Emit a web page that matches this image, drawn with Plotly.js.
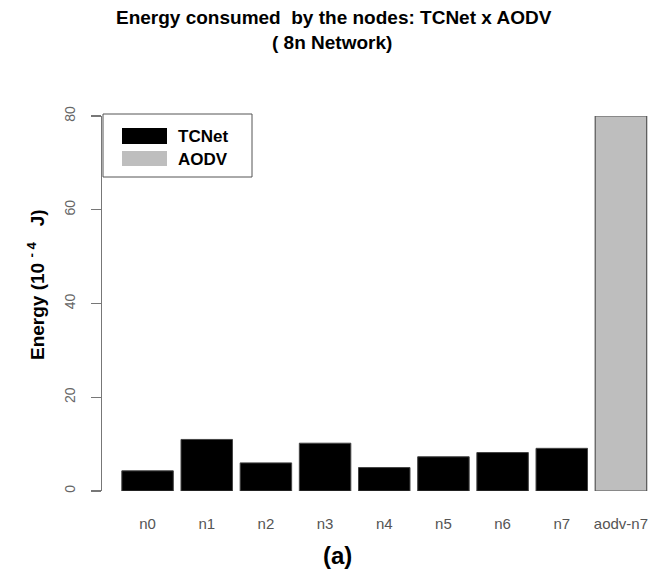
<!DOCTYPE html>
<html>
<head>
<meta charset="utf-8">
<script src="https://cdn.plot.ly/plotly-3.0.1.min.js"></script>
<style>html,body{margin:0;padding:0;background:#fff;}#chart{width:667px;height:583px;}</style>
</head>
<body>
<div id="chart"></div>
<script>
const categories = ["n0","n1","n2","n3","n4","n5","n6","n7","aodv-n7"];
const tcnetValues = [4.3, 11.0, 6.0, 10.2, 5.0, 7.3, 8.2, 9.1, null];
const aodvValues = [null, null, null, null, null, null, null, null, 80];
const yTicks = [0, 20, 40, 60, 80];
const seriesNames = ["TCNet", "AODV"];
const titleLines = ["Energy consumed  by the nodes: TCNet x AODV", "( 8n Network)"];

const W = 667, H = 583;
const L = 102, R = 660, T = 116, B = 491;
const px = x => (x - L) / (R - L);
const py = y => (B - y) / (B - T);
const font = "Liberation Sans, Arial, sans-serif";

const traces = [
  {type: "bar", x: categories, y: tcnetValues, name: seriesNames[0],
   marker: {color: "#000000", line: {color: "#444444", width: 1}}, hoverinfo: "x+y"},
  {type: "bar", x: categories, y: aodvValues, name: seriesNames[1],
   marker: {color: "#bebebe", line: {color: "#555555", width: 1.2}}, hoverinfo: "x+y"}
];

const layout = {
  width: W, height: H,
  margin: {l: L, r: W - R, t: T, b: H - B, pad: 0},
  paper_bgcolor: "#fff", plot_bgcolor: "#fff",
  showlegend: false,
  barmode: "overlay",
  bargap: 0.13,
  xaxis: {type: "category", range: [-0.77, 8.66], showline: false, ticks: "",
          showgrid: false, zeroline: false, fixedrange: true,
          tickfont: {family: font, size: 15, color: "#555"}, ticklabelstandoff: 22},
  yaxis: {range: [0, 80], tickvals: yTicks, ticktext: yTicks.map(String),
          showline: true, linecolor: "#777", linewidth: 1.2,
          ticks: "outside", ticklen: 10, tickcolor: "#777", tickwidth: 1.2,
          tickangle: -90, ticklabelstandoff: 10,
          tickfont: {family: font, size: 14, color: "#666"},
          showgrid: false, zeroline: false, fixedrange: true},
  shapes: [
    {type: "rect", xref: "paper", yref: "paper", x0: px(103), x1: px(252), y0: py(177), y1: py(114),
     line: {color: "#555", width: 1}, fillcolor: "rgba(255,255,255,1)"},
    {type: "rect", xref: "paper", yref: "paper", x0: px(122), x1: px(167), y0: py(144), y1: py(128),
     line: {width: 0}, fillcolor: "#000"},
    {type: "rect", xref: "paper", yref: "paper", x0: px(122), x1: px(167), y0: py(166), y1: py(151),
     line: {width: 0}, fillcolor: "#bebebe"}
  ],
  annotations: [
    {xref: "paper", yref: "paper", x: px(334), y: py(18), xanchor: "center", yanchor: "middle",
     text: "<b>" + titleLines[0] + "</b>", showarrow: false, font: {family: font, size: 19, color: "#000"}},
    {xref: "paper", yref: "paper", x: px(332), y: py(43), xanchor: "center", yanchor: "middle",
     text: "<b>" + titleLines[1] + "</b>", showarrow: false, font: {family: font, size: 19, color: "#000"}},
    {xref: "paper", yref: "paper", x: px(176), y: py(136), xanchor: "left", yanchor: "middle",
     text: "<b>" + seriesNames[0] + "</b>", showarrow: false, font: {family: font, size: 17, color: "#000"}},
    {xref: "paper", yref: "paper", x: px(176), y: py(159), xanchor: "left", yanchor: "middle",
     text: "<b>" + seriesNames[1] + "</b>", showarrow: false, font: {family: font, size: 17, color: "#000"}},
    {xref: "paper", yref: "paper", x: px(36), y: py(285), xanchor: "center", yanchor: "middle",
     textangle: -90, text: "<b>Energy (10 <sup>- 4</sup>   J)</b>", showarrow: false,
     font: {family: font, size: 19, color: "#000"}},
    {xref: "paper", yref: "paper", x: px(337), y: py(555), xanchor: "center", yanchor: "middle",
     text: "<b>(a)</b>", showarrow: false, font: {family: font, size: 24, color: "#000"}}
  ]
};

Plotly.newPlot("chart", traces, layout, {displayModeBar: false, staticPlot: true});
</script>
</body>
</html>
